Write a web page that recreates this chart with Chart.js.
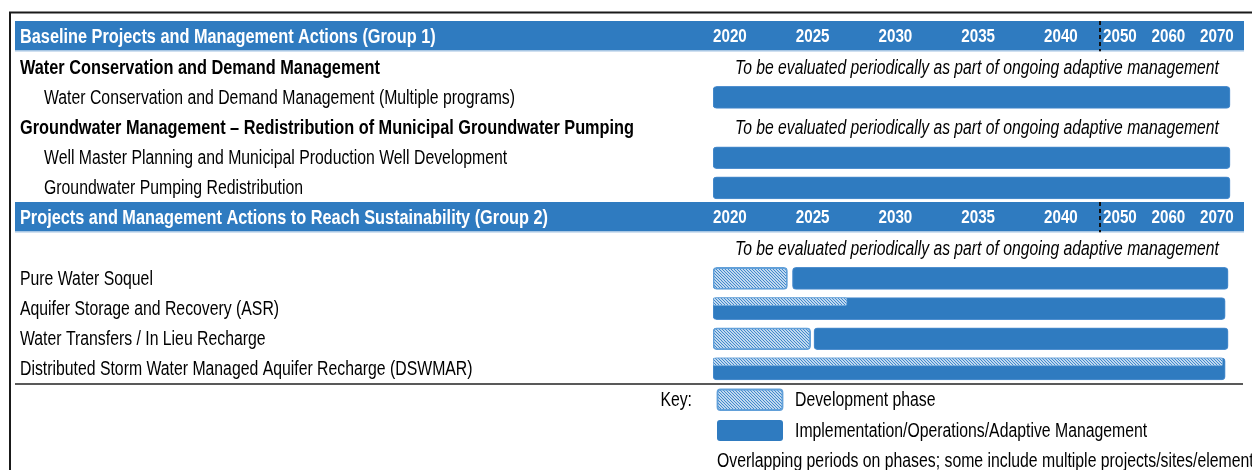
<!DOCTYPE html>
<html>
<head>
<meta charset="utf-8">
<title>Projects and Management Actions schedule</title>
<script src="https://cdn.jsdelivr.net/npm/chart.js@4.4.0/dist/chart.umd.min.js"></script>
<style>
  html, body { margin: 0; padding: 0; background: #fff; }
</style>
</head>
<body>
<canvas id="schedule" width="1252" height="470"></canvas>
<script>
// table rows, top to bottom
const rows = [
  'Baseline Projects and Management Actions (Group 1)',
  'Water Conservation and Demand Management',
  'Water Conservation and Demand Management (Multiple programs)',
  'Groundwater Management – Redistribution of Municipal Groundwater Pumping',
  'Well Master Planning and Municipal Production Well Development',
  'Groundwater Pumping Redistribution',
  'Projects and Management Actions to Reach Sustainability (Group 2)',
  '',
  'Pure Water Soquel',
  'Aquifer Storage and Recovery (ASR)',
  'Water Transfers / In Lieu Recharge',
  'Distributed Storm Water Managed Aquifer Recharge (DSWMAR)'
];
const rowKinds = ['header', 'group', 'item', 'group', 'item', 'item', 'header', 'note', 'plain', 'plain', 'plain', 'plain'];
const noteText = 'To be evaluated periodically as part of ongoing adaptive management';
const yearTicks = [2020, 2025, 2030, 2035, 2040, 2050, 2060, 2070];

// implementation / operations bars
const implRows = [
  'Water Conservation and Demand Management (Multiple programs)',
  'Well Master Planning and Municipal Production Well Development',
  'Groundwater Pumping Redistribution',
  'Pure Water Soquel',
  'Aquifer Storage and Recovery (ASR)',
  'Water Transfers / In Lieu Recharge',
  'Distributed Storm Water Managed Aquifer Recharge (DSWMAR)'
];
const implStart = [2020, 2020, 2020, 2024.8, 2020, 2026.1, 2020];
const implEnd = [2076.2, 2076.2, 2076.2, 2075.8, 2075.2, 2075.8, 2075.2];

// development phase, before implementation
const devRows = ['Pure Water Soquel', 'Water Transfers / In Lieu Recharge'];
const devStart = [2020, 2020];
const devEnd = [2024.5, 2025.9];

// development phase overlapping implementation
const overlapRows = ['Aquifer Storage and Recovery (ASR)', 'Distributed Storm Water Managed Aquifer Recharge (DSWMAR)'];
const overlapStart = [2020, 2020];
const overlapEnd = [2028.1, 2074.7];

const BLUE = '#2f7bc0';
const FONT = '"Liberation Sans", Arial, sans-serif';

// the year axis is compressed after 2040
const knotYears = [2020, 2040, 2050, 2080];
const knotWidths = [0, 331, 390, 535.5];

class YearBreakScale extends Chart.LinearScale {
  yearToDecimal(v) {
    const total = knotWidths[knotWidths.length - 1];
    for (let i = 1; i < knotYears.length; i++) {
      if (v <= knotYears[i] || i === knotYears.length - 1) {
        const t = (v - knotYears[i - 1]) / (knotYears[i] - knotYears[i - 1]);
        return (knotWidths[i - 1] + t * (knotWidths[i] - knotWidths[i - 1])) / total;
      }
    }
    return 0;
  }
  getPixelForValue(value) {
    return this.getPixelForDecimal(this.yearToDecimal(value));
  }
  getValueForPixel(pixel) {
    const w = this.getDecimalForPixel(pixel) * knotWidths[knotWidths.length - 1];
    for (let i = 1; i < knotWidths.length; i++) {
      if (w <= knotWidths[i] || i === knotWidths.length - 1) {
        const t = (w - knotWidths[i - 1]) / (knotWidths[i] - knotWidths[i - 1]);
        return knotYears[i - 1] + t * (knotYears[i] - knotYears[i - 1]);
      }
    }
    return knotYears[0];
  }
}
YearBreakScale.id = 'yearBreak';
Chart.register(YearBreakScale);

function makeHatch() {
  const c = document.createElement('canvas');
  c.width = 3; c.height = 3;
  const g = c.getContext('2d');
  g.fillStyle = '#ffffff';
  g.fillRect(0, 0, 3, 3);
  g.strokeStyle = '#3a84ca';
  g.lineWidth = 1.2;
  g.beginPath();
  g.moveTo(-1, -1); g.lineTo(4, 4);
  g.moveTo(-1, 2); g.lineTo(1, 4);
  g.moveTo(2, -1); g.lineTo(4, 1);
  g.stroke();
  return g.createPattern(c, 'repeat');
}
const hatch = makeHatch();

function txt(ctx, text, x, y, o) {
  o = o || {};
  ctx.save();
  ctx.font = (o.italic ? 'italic ' : '') + (o.bold ? 'bold ' : '') + (o.size || 20) + 'px ' + FONT;
  ctx.fillStyle = o.color || '#000';
  ctx.textAlign = o.align || 'left';
  ctx.textBaseline = 'middle';
  ctx.translate(x, y + 1);
  ctx.scale(o.sx || (o.bold ? 0.815 : 0.79), 1);
  ctx.fillText(text, 0, 0);
  ctx.restore();
}

const tablePlugin = {
  id: 'table',
  beforeDatasetsDraw(chart) {
    const ctx = chart.ctx;
    const y = chart.scales.y;
    const rowH = (y.bottom - y.top) / rows.length;
    ctx.save();
    // frame
    ctx.strokeStyle = '#1a1a1a';
    ctx.lineWidth = 2;
    ctx.beginPath();
    ctx.moveTo(10, 470); ctx.lineTo(10, 12.5); ctx.lineTo(1252, 12.5);
    ctx.stroke();
    rows.forEach((r, i) => {
      if (rowKinds[i] !== 'header') return;
      const top = y.getPixelForValue(i) - rowH / 2;
      ctx.fillStyle = BLUE;
      ctx.fillRect(15, top - 1, 1229, 29.5);
      ctx.fillStyle = '#bcd3ea';
      ctx.fillRect(15, top + 28.5, 1229, 1.2);
    });
    // bottom rule
    ctx.strokeStyle = '#222';
    ctx.lineWidth = 1.5;
    ctx.beginPath();
    ctx.moveTo(15, y.bottom); ctx.lineTo(1243, y.bottom);
    ctx.stroke();
    ctx.restore();
  },
  afterDraw(chart) {
    const ctx = chart.ctx;
    const x = chart.scales.x;
    const y = chart.scales.y;
    const rowH = (y.bottom - y.top) / rows.length;
    rows.forEach((r, i) => {
      const cy = y.getPixelForValue(i);
      const kind = rowKinds[i];
      if (kind === 'header') {
        txt(ctx, r, 20, cy - 1, { bold: true, color: '#fff' });
        yearTicks.forEach(yr => {
          txt(ctx, String(yr), x.getPixelForValue(yr), cy - 1, { bold: true, color: '#fff', size: 19, sx: 0.8 });
        });
        const bx = x.getPixelForValue(2050) - 3;
        ctx.save();
        ctx.strokeStyle = '#111';
        ctx.lineWidth = 2;
        ctx.setLineDash([4, 3]);
        ctx.beginPath();
        ctx.moveTo(bx, cy - rowH / 2 - 1); ctx.lineTo(bx, cy + rowH / 2 - 1);
        ctx.stroke();
        ctx.restore();
      } else {
        const indent = kind === 'item' ? 44 : 20;
        if (r) txt(ctx, r, indent, cy, { bold: kind === 'group' });
        if (kind === 'group' || kind === 'note') {
          txt(ctx, noteText, x.left + 22, cy, { italic: true, sx: 0.785 });
        }
      }
    });
    // key
    txt(ctx, 'Key:', 692, 399, { align: 'right' });
    ctx.save();
    ctx.fillStyle = hatch;
    ctx.strokeStyle = '#62a0d9';
    ctx.lineWidth = 1.8;
    ctx.beginPath();
    ctx.roundRect(717.5, 389.5, 65, 20.5, 3);
    ctx.fill(); ctx.stroke();
    ctx.fillStyle = BLUE;
    ctx.beginPath();
    ctx.roundRect(717, 420, 66, 21, 3);
    ctx.fill();
    ctx.restore();
    txt(ctx, 'Development phase', 795, 399);
    txt(ctx, 'Implementation/Operations/Adaptive Management', 795, 430);
    txt(ctx, 'Overlapping periods on phases; some include multiple projects/sites/elements', 717, 460);
  }
};

new Chart(document.getElementById('schedule'), {
  type: 'bar',
  data: {
    labels: rows,
    datasets: [
      {
        label: 'Development phase (overlapping)',
        data: overlapRows.map((r, i) => ({ y: rows.indexOf(r), x: [overlapStart[i], overlapEnd[i]] })),
        yAxisID: 'yTop',
        backgroundColor: hatch,
        borderColor: '#6aa5da',
        borderWidth: 1,
        borderRadius: 2,
        borderSkipped: false,
        barPercentage: 1,
        categoryPercentage: 1,
        maxBarThickness: 8,
        grouped: false,
        order: 0
      },
      {
        label: 'Development phase',
        data: devRows.map((r, i) => ({ y: r, x: [devStart[i], devEnd[i]] })),
        backgroundColor: hatch,
        borderColor: '#62a0d9',
        borderWidth: 1.8,
        borderRadius: 4,
        borderSkipped: false,
        barPercentage: 1,
        categoryPercentage: 1,
        maxBarThickness: 22,
        grouped: false,
        order: 1
      },
      {
        label: 'Implementation/Operations/Adaptive Management',
        data: implRows.map((r, i) => ({ y: r, x: [implStart[i], implEnd[i]] })),
        backgroundColor: BLUE,
        borderColor: '#4f8fcf',
        borderWidth: 1,
        borderRadius: 4,
        borderSkipped: false,
        barPercentage: 1,
        categoryPercentage: 1,
        maxBarThickness: 22,
        grouped: false,
        order: 2
      }
    ]
  },
  options: {
    indexAxis: 'y',
    responsive: false,
    animation: false,
    layout: { padding: { left: 713, right: 3.5, top: 22, bottom: 86 } },
    scales: {
      x: { type: 'yearBreak', min: 2020, max: 2080, display: false },
      y: { type: 'category', display: false, offset: true },
      yTop: { type: 'linear', display: false, reverse: true, offset: false, min: -0.268, max: 11.732 }
    },
    plugins: {
      legend: { display: false },
      tooltip: { enabled: false }
    }
  },
  plugins: [tablePlugin]
});
</script>
</body>
</html>
